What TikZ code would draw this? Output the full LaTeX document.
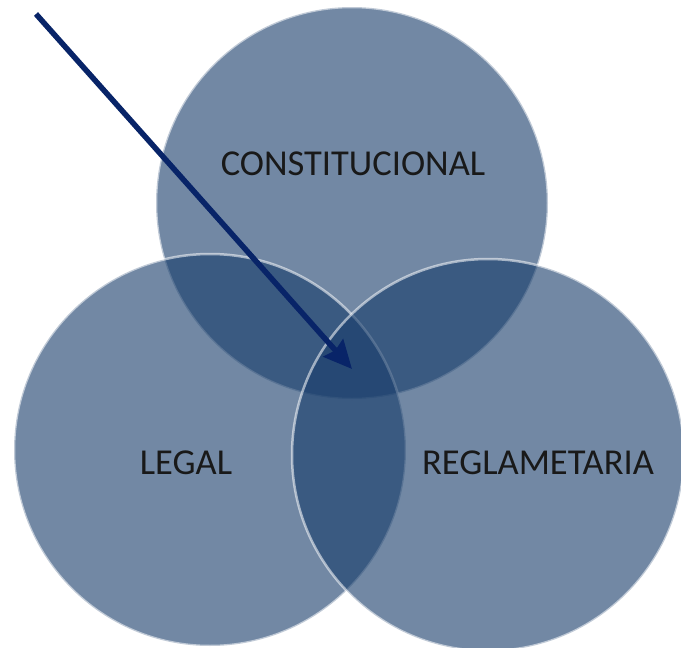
\documentclass[tikz,border=0pt]{standalone}
\usepackage{fontspec}
\setmainfont{Carlito}
\usetikzlibrary{arrows.meta,positioning}
\definecolor{discfill}{RGB}{24,61,107}
\definecolor{arrowblue}{RGB}{8,36,104}
\tikzset{disc/.style = {circle, minimum size = 392pt, inner sep = 0pt, fill = discfill, fill opacity = 0.61, draw = white, draw opacity = 0.55, line width = 2.5pt},
	disclabel/.style = {font = \fontsize{36.5}{36.5}\selectfont, text = black!90},
	pointer/.style = {-{Stealth[length=28pt, width=26pt, inset=3pt]}, arrowblue, line width = 5.5pt}}

\begin{document}
\begin{tikzpicture}[x=1pt, y=-1pt]
 \useasboundingbox (0,0) rectangle (681,648);

 \node (constitucional) at (352,203) [disc] {};
 \node (legal) at (210,450) [disc] {};
 \node (reglamentaria) at (488,455) [disc] {};

 \node (constext) at (353,164) [disclabel] {CONSTITUCIONAL};
 \node (legaltext) at (186,463) [disclabel] {LEGAL};
 \node (reglatext) at (538,463) [disclabel] {REGLAMETARIA};

 \coordinate (from) at (36,14);
 \coordinate (center) at (352,369);
 \draw [pointer] (from) -- (center);

\end{tikzpicture}
\end{document}
